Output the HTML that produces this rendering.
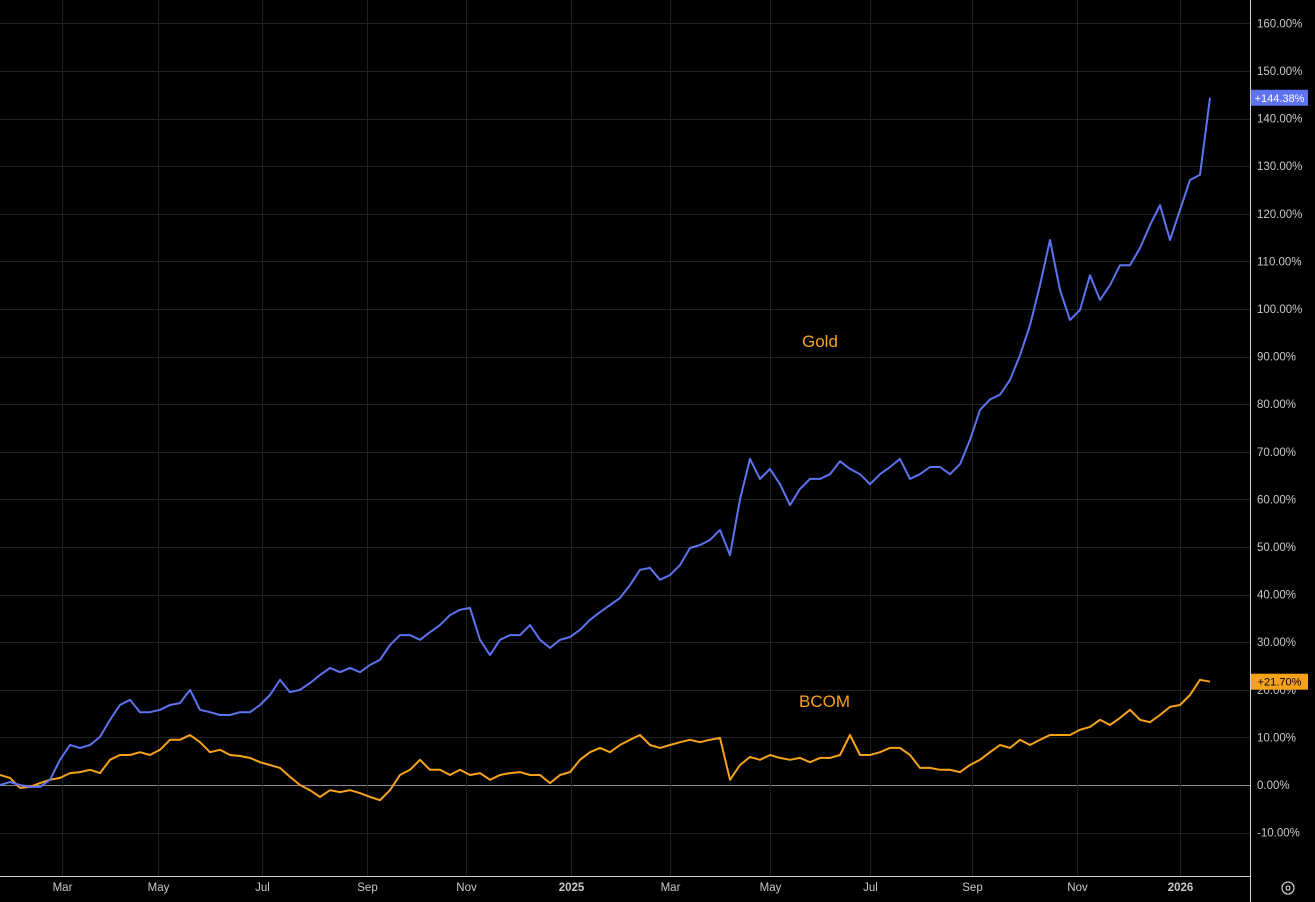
<!DOCTYPE html>
<html><head><meta charset="utf-8"><style>
html,body{margin:0;padding:0;background:#000;width:1315px;height:902px;overflow:hidden}
svg{display:block}
text{font-family:"Liberation Sans",sans-serif}
</style></head><body>
<svg id="chart" width="1315" height="902">
<rect width="1315" height="902" fill="#000"/>
<g id="grid"></g>
<g id="yaxis"></g>
<g id="xaxis"></g>
<g id="series"></g>
<text x="802" y="347" fill="#f7a21b" font-size="17">Gold</text>
<text x="799" y="707" fill="#f7a21b" font-size="17">BCOM</text>
<line x1="1250.5" y1="0" x2="1250.5" y2="902" stroke="#d0d0d0" stroke-width="1"/>
<line x1="0" y1="876.5" x2="1250" y2="876.5" stroke="#d0d0d0" stroke-width="1"/>
<g><circle cx="1288" cy="888" r="6" fill="none" stroke="#c8c8c8" stroke-width="1.3"/><circle cx="1288" cy="888" r="2" fill="none" stroke="#c8c8c8" stroke-width="1.2"/></g>
</svg>
<script>
const yTicks=[-10,0,10,20,30,40,50,60,70,80,90,100,110,120,130,140,150,160];
const xLabels=["Mar","May","Jul","Sep","Nov","2025","Mar","May","Jul","Sep","Nov","2026"];
const xLabelIdx=[6.2,15.8,26.2,36.7,46.6,57.1,67,77,87,97.2,107.7,118];
const gold=[0,0.6,0,-0.4,-0.4,1.1,5.3,8.4,7.8,8.4,10.1,13.7,16.8,17.9,15.3,15.3,15.8,16.8,17.2,20,15.8,15.3,14.7,14.7,15.3,15.3,16.8,18.9,22.1,19.5,20,21.4,23.1,24.6,23.7,24.6,23.7,25.2,26.3,29.4,31.5,31.5,30.5,32.1,33.6,35.7,36.8,37.2,30.5,27.3,30.5,31.5,31.5,33.6,30.5,28.8,30.5,31.1,32.6,34.7,36.3,37.8,39.3,42,45.2,45.6,43.1,44.1,46.2,49.8,50.4,51.5,53.6,48.3,60,68.5,64.3,66.4,63.2,58.8,62.2,64.3,64.3,65.3,68,66.4,65.3,63.2,65.3,66.8,68.5,64.3,65.3,66.8,66.8,65.3,67.4,72.5,78.8,81,82,85.1,90.3,96.6,105,114.5,104,97.7,99.8,107.1,101.9,105,109.2,109.2,112.8,117.6,121.8,114.5,120.8,127.1,128.2,144.38];
const bcom=[2.1,1.5,-0.6,-0.4,0.4,1.1,1.5,2.5,2.7,3.2,2.5,5.3,6.3,6.3,6.9,6.3,7.4,9.5,9.5,10.5,9,6.9,7.4,6.3,6.1,5.7,4.8,4.2,3.6,1.7,0,-1.1,-2.5,-1.1,-1.5,-1.1,-1.7,-2.5,-3.2,-1.1,2.1,3.2,5.3,3.2,3.2,2.1,3.2,2.1,2.5,1.1,2.1,2.5,2.7,2.1,2.1,0.4,2.1,2.7,5.3,6.9,7.8,6.9,8.4,9.5,10.5,8.4,7.8,8.4,9,9.5,9,9.5,9.9,1.1,4.2,5.9,5.3,6.3,5.7,5.3,5.7,4.8,5.7,5.7,6.3,10.5,6.3,6.3,6.9,7.8,7.8,6.3,3.6,3.6,3.2,3.2,2.7,4.2,5.3,6.9,8.4,7.8,9.5,8.4,9.5,10.5,10.5,10.5,11.6,12.2,13.7,12.6,14.1,15.8,13.7,13.2,14.7,16.4,16.8,18.9,22.1,21.70];
const NS='http://www.w3.org/2000/svg';
const y=v=>785-v*4.76;
const x=i=>i*10;
const grid=document.getElementById('grid'),ya=document.getElementById('yaxis'),xa=document.getElementById('xaxis'),ser=document.getElementById('series');
function mk(tag,attrs,parent){const e=document.createElementNS(NS,tag);for(const k in attrs)e.setAttribute(k,attrs[k]);parent.appendChild(e);return e;}
yTicks.forEach(t=>{
  const l=mk('line',{x1:0,x2:1250,y1:Math.round(y(t))+0.5,y2:Math.round(y(t))+0.5,stroke:t===0?'#8a8a8a':'#222','stroke-width':1},grid);
  
  
  const tx=mk('text',{x:1257,y:y(t)+4,fill:'#c8c8c8','font-size':11.5},ya);
  tx.textContent=t.toFixed(2)+'%';
  
  
});
xLabels.forEach((s,k)=>{
  const xx=Math.round(x(xLabelIdx[k]))+0.5;
  const l=mk('line',{x1:xx,x2:xx,y1:0,y2:876,stroke:'#222','stroke-width':1},grid);
  
  
  const tx=mk('text',{x:xx,y:891,fill:'#c8c8c8','font-size':11.5,'text-anchor':'middle','font-weight':s.length===4?'bold':'normal'},xa);
  tx.textContent=s;
  
  
});
function line(arr,color,name){
  const d=arr.map((v,i)=>(i?'L':'M')+x(i).toFixed(1)+','+y(v).toFixed(1)).join('');
  const p=mk('path',{d:d,fill:'none',stroke:color,'stroke-width':2,'stroke-linejoin':'round'},ser);
  
  
}
line(bcom,'#f7a21b','bcom-line');
line(gold,'#5d73f0','gold-line');
function badge(v,color,name){
  const yy=y(v);
  const r=mk('rect',{x:1251,y:yy-8,width:57,height:16,fill:color},ya);
  
  
  const t=mk('text',{x:1279.5,y:yy+4,fill:color==='#f7a21b'?'#000':'#fff','font-size':11,'text-anchor':'middle'},ya);
  t.textContent='+'+v.toFixed(2)+'%';
  
  
}
badge(gold[gold.length-1],'#5d73f0','gold-last-value');
badge(bcom[bcom.length-1],'#f7a21b','bcom-last-value');
</script>
</body></html>
